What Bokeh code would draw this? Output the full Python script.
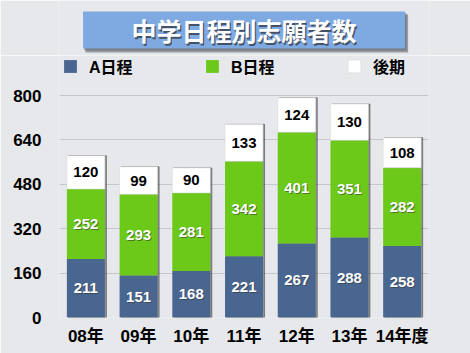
from bokeh.plotting import figure
from bokeh.models import (ColumnDataSource, FactorRange, FixedTicker, Legend, LegendItem, Range1d)
from bokeh.core.properties import value
from bokeh.transform import dodge
from bokeh.layouts import column
from bokeh.embed import file_html
from bokeh.resources import INLINE

# ---- data ----
years = ["08年", "09年", "10年", "11年", "12年", "13年", "14年度"]
a_vals = [211, 151, 168, 221, 267, 288, 258]
b_vals = [252, 293, 281, 342, 401, 351, 282]
k_vals = [120, 99, 90, 133, 124, 130, 108]
series = ["A日程", "B日程", "後期"]
y_ticks = [0, 160, 320, 480, 640, 800]
title_text = "中学日程別志願者数"

colors = ["#48668F", "#6CC91A", "#FFFFFF"]
BG = "#E6E8EB"
FONT = "'Liberation Sans', 'Noto Sans CJK JP', sans-serif"
CJK = "'Noto Sans CJK JP', sans-serif"

W, H = 470, 353
HEAD = 55                      # header figure height
L, R, B = 59, 42, 36
MH = H - HEAD                  # main figure height
FH = MH - B                    # frame height (frame starts at top of main fig)
ZERO_PX, TOP_PX = 317, 95      # global pixel rows of 0 and 800
y_end = 800 * (ZERO_PX - HEAD) / (ZERO_PX - TOP_PX)

# ---- header with title banner ----
h = figure(width=W, height=HEAD, x_range=Range1d(0, W), y_range=Range1d(HEAD, 0),
           output_backend="svg", toolbar_location=None, x_axis_type=None, y_axis_type=None,
           min_border=0, background_fill_color=BG, border_fill_color=BG, outline_line_color=None)
h.grid.visible = False
h.quad(left=[33], right=[444], top=[14], bottom=[52], fill_color="#3A3F47", fill_alpha=0.45, line_color=None)
h.quad(left=[31.5], right=[442], top=[12.5], bottom=[50], fill_color="#3A3F47", fill_alpha=0.35, line_color=None)
h.quad(left=[30], right=[440], top=[11], bottom=[48], fill_color="#7FAAE1", line_color=None)
h.text(x=[236.5], y=[31], text=[title_text], text_align="center", text_baseline="middle",
       text_font=value(CJK), text_font_style="bold", text_font_size="25px",
       text_color="#2F3540", text_alpha=0.75)
h.text(x=[235], y=[29.5], text=[title_text], text_align="center", text_baseline="middle",
       text_font=value(CJK), text_font_style="bold", text_font_size="25px", text_color="white")

# ---- main chart ----
src = ColumnDataSource(dict(
    x=years, a=a_vals, b=b_vals, k=k_vals,
    a_mid=[v / 2 for v in a_vals],
    b_mid=[a + b / 2 for a, b in zip(a_vals, b_vals)],
    k_mid=[a + b + k / 2 for a, b, k in zip(a_vals, b_vals, k_vals)],
    total=[a + b + k for a, b, k in zip(a_vals, b_vals, k_vals)],
    a_lbl=[str(v) for v in a_vals], b_lbl=[str(v) for v in b_vals], k_lbl=[str(v) for v in k_vals],
))

p = figure(x_range=FactorRange(*years, range_padding=0), y_range=Range1d(0, y_end),
           width=W, height=MH, output_backend="svg", toolbar_location=None,
           min_border_left=L, min_border_right=R, min_border_top=0, min_border_bottom=B,
           background_fill_color=BG, border_fill_color=BG, outline_line_color=None)

# shadow behind bars
p.vbar(x=dodge("x", 0.03, range=p.x_range), top="total", width=0.72, source=src,
       color="#2A2A2A", alpha=0.45)

rs = p.vbar_stack(["a", "b", "k"], x="x", width=0.72, source=src,
                  color=colors, line_color=None)
rs[2].glyph.line_color = "#D4D4D4"
rs[2].glyph.line_width = 0.5

# value labels
for col, mid, tc in [("a_lbl", "a_mid", "white"), ("b_lbl", "b_mid", "white"), ("k_lbl", "k_mid", "black")]:
    if tc == "white":
        p.text(x="x", y=mid, text=col, source=src, text_align="center", text_baseline="middle",
               text_font=value(FONT), text_font_style="bold", text_font_size="15px",
               text_color="#333333", text_alpha=0.55, x_offset=1, y_offset=1)
    p.text(x="x", y=mid, text=col, source=src, text_align="center", text_baseline="middle",
           text_font=value(FONT), text_font_style="bold", text_font_size="15px",
           text_color=tc)

# axes
p.yaxis.ticker = FixedTicker(ticks=y_ticks)
p.yaxis.axis_line_color = None
p.yaxis.major_tick_line_color = None
p.yaxis.minor_tick_line_color = None
p.yaxis.major_label_text_font = FONT
p.yaxis.major_label_text_font_style = "bold"
p.yaxis.major_label_text_font_size = "17px"
p.yaxis.major_label_text_color = "black"
p.yaxis.major_label_standoff = 12

p.xaxis.axis_line_color = None
p.xaxis.major_tick_line_color = None
p.xaxis.major_label_text_font = FONT
p.xaxis.major_label_text_font_style = "bold"
p.xaxis.major_label_text_font_size = "17px"
p.xaxis.major_label_text_color = "black"
p.xaxis.major_label_standoff = 3

p.xgrid.grid_line_color = None
p.ygrid.grid_line_color = "#C4C7CC"
p.ygrid.grid_line_width = 1

# legend (inside the frame, in its upper empty band)
items = [LegendItem(label=s, renderers=[r]) for s, r in zip(series, rs)]
legend = Legend(items=items, orientation="horizontal", location=(3, FH - (78 - HEAD)),
                glyph_width=16, glyph_height=16, label_height=16, label_width=100,
                label_standoff=11, spacing=15, padding=0, margin=0,
                border_line_color=None, background_fill_alpha=0,
                label_text_font=FONT, label_text_font_style="bold", label_text_font_size="16px",
                label_text_color="black")
p.add_layout(legend, "center")

layout = column(h, p, spacing=0)
open("out.html", "w").write(file_html(layout, INLINE))
